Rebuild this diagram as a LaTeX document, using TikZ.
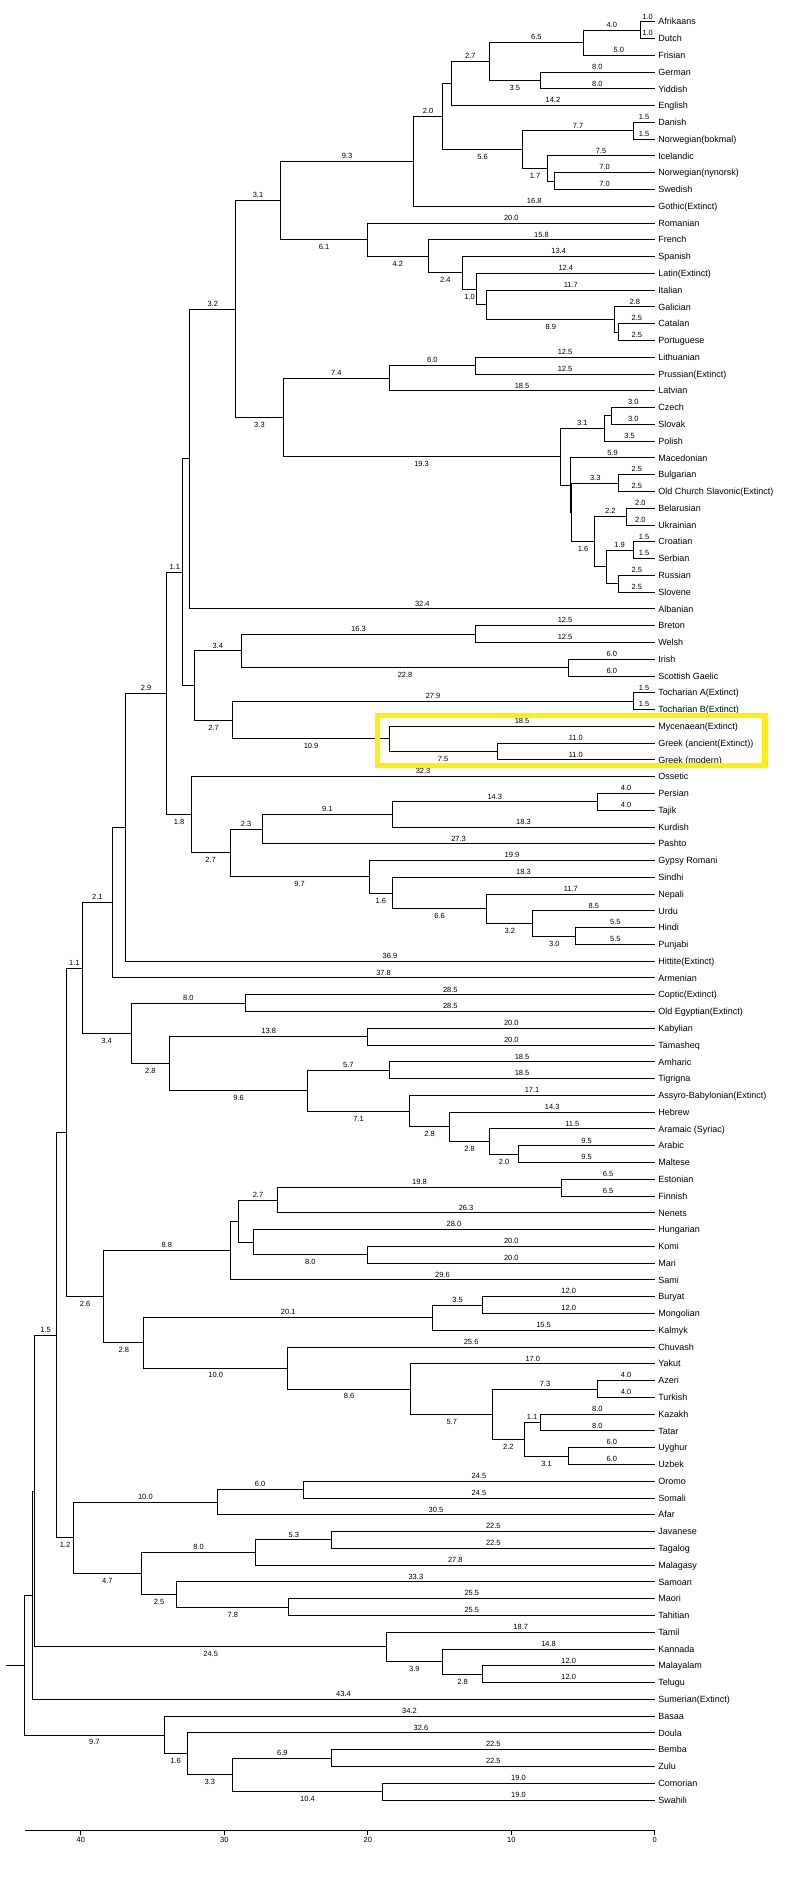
\documentclass[tikz,border=0pt]{standalone}
\usepackage{fontspec}
\setmainfont{Liberation Sans}
\usetikzlibrary{calc}
\definecolor{hl}{RGB}{255,240,0}
\tikzset{
  br/.style={line width=0.9pt, black},
  leaf/.style={font=\fontsize{9}{9}\selectfont, inner sep=0pt, anchor=base west, xshift=3.3pt, yshift=-3.2pt},
  lab/.style={font=\fontsize{7.5}{7.5}\selectfont, inner sep=0pt, anchor=base},
  hlbox/.style={draw=hl, line width=5.5pt}
}
\newcommand\leafL[3]{\coordinate (#1) at (654.8,{21.7+16.776*(#2-1)}); \node[leaf] (#1t) at (#1) {#3};}
\newcommand\joinJ[4]{\coordinate (jnx) at ({654.8-14.35*#2},0); \coordinate (jnm) at ($(#3)!0.5!(#4)$); \coordinate (#1) at (jnx |- jnm);}
\newcommand\brA[3]{\draw[br] (#1) |- (#2) node[lab,pos=0.75,yshift=2.7pt]{#3};}
\newcommand\brB[3]{\draw[br] (#1) |- (#2) node[lab,pos=0.75,yshift=-10pt]{#3};}
\newcommand\brN[2]{\draw[br] (#1) |- (#2);}
\begin{document}
\begin{tikzpicture}[x=1pt,y=-1pt]
\fill[white] (0,0) rectangle (807,1882);
\useasboundingbox (0,0) rectangle (807,1882);
% leaves
\leafL{afr}{1}{Afrikaans}
\leafL{dut}{2}{Dutch}
\leafL{fri}{3}{Frisian}
\leafL{ger}{4}{German}
\leafL{yid}{5}{Yiddish}
\leafL{eng}{6}{English}
\leafL{dan}{7}{Danish}
\leafL{nob}{8}{Norwegian(bokmal)}
\leafL{ice}{9}{Icelandic}
\leafL{nno}{10}{Norwegian(nynorsk)}
\leafL{swe}{11}{Swedish}
\leafL{got}{12}{Gothic(Extinct)}
\leafL{rom}{13}{Romanian}
\leafL{fre}{14}{French}
\leafL{spa}{15}{Spanish}
\leafL{lat}{16}{Latin(Extinct)}
\leafL{ita}{17}{Italian}
\leafL{gal}{18}{Galician}
\leafL{cat}{19}{Catalan}
\leafL{por}{20}{Portuguese}
\leafL{lit}{21}{Lithuanian}
\leafL{pru}{22}{Prussian(Extinct)}
\leafL{lav}{23}{Latvian}
\leafL{cze}{24}{Czech}
\leafL{slk}{25}{Slovak}
\leafL{pol}{26}{Polish}
\leafL{mac}{27}{Macedonian}
\leafL{bul}{28}{Bulgarian}
\leafL{ocs}{29}{Old Church Slavonic(Extinct)}
\leafL{bel}{30}{Belarusian}
\leafL{ukr}{31}{Ukrainian}
\leafL{cro}{32}{Croatian}
\leafL{ser}{33}{Serbian}
\leafL{rus}{34}{Russian}
\leafL{slv}{35}{Slovene}
\leafL{alb}{36}{Albanian}
\leafL{bre}{37}{Breton}
\leafL{wel}{38}{Welsh}
\leafL{iri}{39}{Irish}
\leafL{gae}{40}{Scottish Gaelic}
\leafL{tca}{41}{Tocharian A(Extinct)}
\leafL{tcb}{42}{Tocharian B(Extinct)}
\leafL{myc}{43}{Mycenaean(Extinct)}
\leafL{gra}{44}{Greek (ancient(Extinct))}
\leafL{grm}{45}{Greek (modern)}
\leafL{oss}{46}{Ossetic}
\leafL{per}{47}{Persian}
\leafL{taj}{48}{Tajik}
\leafL{kur}{49}{Kurdish}
\leafL{pas}{50}{Pashto}
\leafL{gyp}{51}{Gypsy Romani}
\leafL{sin}{52}{Sindhi}
\leafL{nep}{53}{Nepali}
\leafL{urd}{54}{Urdu}
\leafL{hin}{55}{Hindi}
\leafL{pun}{56}{Punjabi}
\leafL{hit}{57}{Hittite(Extinct)}
\leafL{arm}{58}{Armenian}
\leafL{cop}{59}{Coptic(Extinct)}
\leafL{oeg}{60}{Old Egyptian(Extinct)}
\leafL{kab}{61}{Kabylian}
\leafL{tam}{62}{Tamasheq}
\leafL{amh}{63}{Amharic}
\leafL{tig}{64}{Tigrigna}
\leafL{asb}{65}{Assyro-Babylonian(Extinct)}
\leafL{heb}{66}{Hebrew}
\leafL{ara}{67}{Aramaic (Syriac)}
\leafL{arb}{68}{Arabic}
\leafL{mlt}{69}{Maltese}
\leafL{est}{70}{Estonian}
\leafL{fin}{71}{Finnish}
\leafL{nen}{72}{Nenets}
\leafL{hun}{73}{Hungarian}
\leafL{kom}{74}{Komi}
\leafL{mar}{75}{Mari}
\leafL{sam}{76}{Sami}
\leafL{bur}{77}{Buryat}
\leafL{mon}{78}{Mongolian}
\leafL{kal}{79}{Kalmyk}
\leafL{chu}{80}{Chuvash}
\leafL{yak}{81}{Yakut}
\leafL{aze}{82}{Azeri}
\leafL{tur}{83}{Turkish}
\leafL{kaz}{84}{Kazakh}
\leafL{tat}{85}{Tatar}
\leafL{uyg}{86}{Uyghur}
\leafL{uzb}{87}{Uzbek}
\leafL{oro}{88}{Oromo}
\leafL{som}{89}{Somali}
\leafL{afa}{90}{Afar}
\leafL{jav}{91}{Javanese}
\leafL{tag}{92}{Tagalog}
\leafL{mlg}{93}{Malagasy}
\leafL{smo}{94}{Samoan}
\leafL{mao}{95}{Maori}
\leafL{tah}{96}{Tahitian}
\leafL{tml}{97}{Tamil}
\leafL{kan}{98}{Kannada}
\leafL{mal}{99}{Malayalam}
\leafL{tel}{100}{Telugu}
\leafL{sum}{101}{Sumerian(Extinct)}
\leafL{bas}{102}{Basaa}
\leafL{dou}{103}{Doula}
\leafL{bem}{104}{Bemba}
\leafL{zul}{105}{Zulu}
\leafL{com}{106}{Comorian}
\leafL{swa}{107}{Swahili}
% Germanic
\joinJ{Nad}{1.0}{afr}{dut} \brA{Nad}{afr}{1.0} \brA{Nad}{dut}{1.0}
\joinJ{Nadf}{5.0}{Nad}{fri} \brA{Nadf}{Nad}{4.0} \brA{Nadf}{fri}{5.0}
\joinJ{Ngy}{8.0}{ger}{yid} \brA{Ngy}{ger}{8.0} \brA{Ngy}{yid}{8.0}
\joinJ{Nwg}{11.5}{Nadf}{Ngy} \brA{Nwg}{Nadf}{6.5} \brB{Nwg}{Ngy}{3.5}
\joinJ{Nwge}{14.2}{Nwg}{eng} \brA{Nwge}{Nwg}{2.7} \brA{Nwge}{eng}{14.2}
\joinJ{Ndn}{1.5}{dan}{nob} \brA{Ndn}{dan}{1.5} \brA{Ndn}{nob}{1.5}
\joinJ{Nns}{7.0}{nno}{swe} \brA{Nns}{nno}{7.0} \brA{Nns}{swe}{7.0}
\joinJ{Nins}{7.5}{ice}{Nns} \brA{Nins}{ice}{7.5} \brN{Nins}{Nns}
\joinJ{Nnor}{9.2}{Ndn}{Nins} \brA{Nnor}{Ndn}{7.7} \brB{Nnor}{Nins}{1.7}
\joinJ{Ngn}{14.8}{Nwge}{Nnor} \brN{Ngn}{Nwge} \brB{Ngn}{Nnor}{5.6}
\joinJ{Ngem}{16.8}{Ngn}{got} \brA{Ngem}{Ngn}{2.0} \brA{Ngem}{got}{16.8}
% Romance
\joinJ{Ncp}{2.5}{cat}{por} \brA{Ncp}{cat}{2.5} \brA{Ncp}{por}{2.5}
\joinJ{Ngcp}{2.8}{gal}{Ncp} \brA{Ngcp}{gal}{2.8} \brN{Ngcp}{Ncp}
\joinJ{Nig}{11.7}{ita}{Ngcp} \brA{Nig}{ita}{11.7} \brB{Nig}{Ngcp}{8.9}
\joinJ{Nli}{12.4}{lat}{Nig} \brA{Nli}{lat}{12.4} \brN{Nli}{Nig}
\joinJ{Nsl}{13.4}{spa}{Nli} \brA{Nsl}{spa}{13.4} \brB{Nsl}{Nli}{1.0}
\joinJ{Nfr}{15.8}{fre}{Nsl} \brA{Nfr}{fre}{15.8} \brB{Nfr}{Nsl}{2.4}
\joinJ{Nro}{20.0}{rom}{Nfr} \brA{Nro}{rom}{20.0} \brB{Nro}{Nfr}{4.2}
\joinJ{Ngr}{26.1}{Ngem}{Nro} \brA{Ngr}{Ngem}{9.3} \brB{Ngr}{Nro}{6.1}
% Balto-Slavic
\joinJ{Nlp}{12.5}{lit}{pru} \brA{Nlp}{lit}{12.5} \brA{Nlp}{pru}{12.5}
\joinJ{Nbal}{18.5}{Nlp}{lav} \brA{Nbal}{Nlp}{6.0} \brA{Nbal}{lav}{18.5}
\joinJ{Ncs}{3.0}{cze}{slk} \brA{Ncs}{cze}{3.0} \brA{Ncs}{slk}{3.0}
\joinJ{Nws}{3.5}{Ncs}{pol} \brN{Nws}{Ncs} \brA{Nws}{pol}{3.5}
\joinJ{Nbo}{2.5}{bul}{ocs} \brA{Nbo}{bul}{2.5} \brA{Nbo}{ocs}{2.5}
\joinJ{Nbu}{2.0}{bel}{ukr} \brA{Nbu}{bel}{2.0} \brA{Nbu}{ukr}{2.0}
\joinJ{Nhs}{1.5}{cro}{ser} \brA{Nhs}{cro}{1.5} \brA{Nhs}{ser}{1.5}
\joinJ{Nrs}{2.5}{rus}{slv} \brA{Nrs}{rus}{2.5} \brA{Nrs}{slv}{2.5}
\joinJ{Nhr}{3.4}{Nhs}{Nrs} \brA{Nhr}{Nhs}{1.9} \brN{Nhr}{Nrs}
\joinJ{Nes}{4.2}{Nbu}{Nhr} \brA{Nes}{Nbu}{2.2} \brN{Nes}{Nhr}
\joinJ{Nbe}{5.8}{Nbo}{Nes} \brA{Nbe}{Nbo}{3.3} \brB{Nbe}{Nes}{1.6}
\joinJ{Nmb}{5.9}{mac}{Nbe} \brA{Nmb}{mac}{5.9} \brN{Nmb}{Nbe}
\joinJ{Nsla}{6.6}{Nws}{Nmb} \brA{Nsla}{Nws}{3.1} \brN{Nsla}{Nmb}
\joinJ{Nbs}{25.9}{Nbal}{Nsla} \brA{Nbs}{Nbal}{7.4} \brB{Nbs}{Nsla}{19.3}
\joinJ{Nce}{29.2}{Ngr}{Nbs} \brA{Nce}{Ngr}{3.1} \brB{Nce}{Nbs}{3.3}
\joinJ{Nca}{32.4}{Nce}{alb} \brA{Nca}{Nce}{3.2} \brA{Nca}{alb}{32.4}
% Celtic, Tocharian, Greek
\joinJ{Nbw}{12.5}{bre}{wel} \brA{Nbw}{bre}{12.5} \brA{Nbw}{wel}{12.5}
\joinJ{Nigc}{6.0}{iri}{gae} \brA{Nigc}{iri}{6.0} \brA{Nigc}{gae}{6.0}
\joinJ{Ncel}{28.8}{Nbw}{Nigc} \brA{Ncel}{Nbw}{16.3} \brB{Ncel}{Nigc}{22.8}
\joinJ{Ntoc}{1.5}{tca}{tcb} \brA{Ntoc}{tca}{1.5} \brA{Ntoc}{tcb}{1.5}
\joinJ{Ngg}{11.0}{gra}{grm} \brA{Ngg}{gra}{11.0} \brA{Ngg}{grm}{11.0}
\joinJ{Ngre}{18.5}{myc}{Ngg} \brA{Ngre}{myc}{18.5} \brB{Ngre}{Ngg}{7.5}
\joinJ{Ntg}{29.4}{Ntoc}{Ngre} \brA{Ntg}{Ntoc}{27.9} \brB{Ntg}{Ngre}{10.9}
\joinJ{Nctg}{32.1}{Ncel}{Ntg} \brA{Nctg}{Ncel}{3.4} \brB{Nctg}{Ntg}{2.7}
\joinJ{Na10}{32.9}{Nca}{Nctg} \brN{Na10}{Nca} \brN{Na10}{Nctg}
% Indo-Iranian
\joinJ{Npt}{4.0}{per}{taj} \brA{Npt}{per}{4.0} \brA{Npt}{taj}{4.0}
\joinJ{Nir1}{18.3}{Npt}{kur} \brA{Nir1}{Npt}{14.3} \brA{Nir1}{kur}{18.3}
\joinJ{Nir}{27.35}{Nir1}{pas} \brA{Nir}{Nir1}{9.1} \brA{Nir}{pas}{27.3}
\joinJ{Nhp}{5.5}{hin}{pun} \brA{Nhp}{hin}{5.5} \brA{Nhp}{pun}{5.5}
\joinJ{Nuhp}{8.5}{urd}{Nhp} \brA{Nuhp}{urd}{8.5} \brB{Nuhp}{Nhp}{3.0}
\joinJ{Nnep}{11.7}{nep}{Nuhp} \brA{Nnep}{nep}{11.7} \brB{Nnep}{Nuhp}{3.2}
\joinJ{Nsin}{18.3}{sin}{Nnep} \brA{Nsin}{sin}{18.3} \brB{Nsin}{Nnep}{6.6}
\joinJ{Nind}{19.9}{gyp}{Nsin} \brA{Nind}{gyp}{19.9} \brB{Nind}{Nsin}{1.6}
\joinJ{Nii}{29.6}{Nir}{Nind} \brA{Nii}{Nir}{2.3} \brB{Nii}{Nind}{9.7}
\joinJ{Nc1}{32.3}{oss}{Nii} \brA{Nc1}{oss}{32.3} \brB{Nc1}{Nii}{2.7}
\joinJ{Na11}{34.0}{Na10}{Nc1} \brA{Na11}{Na10}{1.1} \brB{Na11}{Nc1}{1.8}
\joinJ{Nd1}{36.9}{Na11}{hit} \brA{Nd1}{Na11}{2.9} \brA{Nd1}{hit}{36.9}
\joinJ{Nd2}{37.8}{Nd1}{arm} \brN{Nd2}{Nd1} \brA{Nd2}{arm}{37.8}
% Afro-Asiatic
\joinJ{Neg}{28.5}{cop}{oeg} \brA{Neg}{cop}{28.5} \brA{Neg}{oeg}{28.5}
\joinJ{Nber}{20.0}{kab}{tam} \brA{Nber}{kab}{20.0} \brA{Nber}{tam}{20.0}
\joinJ{Net}{18.5}{amh}{tig} \brA{Net}{amh}{18.5} \brA{Net}{tig}{18.5}
\joinJ{Nam}{9.5}{arb}{mlt} \brA{Nam}{arb}{9.5} \brA{Nam}{mlt}{9.5}
\joinJ{Nar}{11.5}{ara}{Nam} \brA{Nar}{ara}{11.5} \brB{Nar}{Nam}{2.0}
\joinJ{Nhe}{14.3}{heb}{Nar} \brA{Nhe}{heb}{14.3} \brB{Nhe}{Nar}{2.8}
\joinJ{Nas}{17.1}{asb}{Nhe} \brA{Nas}{asb}{17.1} \brB{Nas}{Nhe}{2.8}
\joinJ{Nsem}{24.2}{Net}{Nas} \brA{Nsem}{Net}{5.7} \brB{Nsem}{Nas}{7.1}
\joinJ{Nbs2}{33.8}{Nber}{Nsem} \brA{Nbs2}{Nber}{13.8} \brB{Nbs2}{Nsem}{9.6}
\joinJ{Naa}{36.5}{Neg}{Nbs2} \brA{Naa}{Neg}{8.0} \brB{Naa}{Nbs2}{2.8}
\joinJ{Nd3}{39.9}{Nd2}{Naa} \brA{Nd3}{Nd2}{2.1} \brB{Nd3}{Naa}{3.4}
% Uralic
\joinJ{Nef}{6.5}{est}{fin} \brA{Nef}{est}{6.5} \brA{Nef}{fin}{6.5}
\joinJ{Nu1}{26.3}{Nef}{nen} \brA{Nu1}{Nef}{19.8} \brA{Nu1}{nen}{26.3}
\joinJ{Nkm}{20.0}{kom}{mar} \brA{Nkm}{kom}{20.0} \brA{Nkm}{mar}{20.0}
\joinJ{Nu3}{28.0}{hun}{Nkm} \brA{Nu3}{hun}{28.0} \brB{Nu3}{Nkm}{8.0}
\joinJ{Nu2}{29.0}{Nu1}{Nu3} \brA{Nu2}{Nu1}{2.7} \brN{Nu2}{Nu3}
\joinJ{Nura}{29.6}{Nu2}{sam} \brN{Nura}{Nu2} \brA{Nura}{sam}{29.6}
% Altaic
\joinJ{Nbm}{12.0}{bur}{mon} \brA{Nbm}{bur}{12.0} \brA{Nbm}{mon}{12.0}
\joinJ{Nmo}{15.5}{Nbm}{kal} \brA{Nmo}{Nbm}{3.5} \brA{Nmo}{kal}{15.5}
\joinJ{Nat}{4.0}{aze}{tur} \brA{Nat}{aze}{4.0} \brA{Nat}{tur}{4.0}
\joinJ{Nkt}{8.0}{kaz}{tat} \brA{Nkt}{kaz}{8.0} \brA{Nkt}{tat}{8.0}
\joinJ{Nuu}{6.0}{uyg}{uzb} \brA{Nuu}{uyg}{6.0} \brA{Nuu}{uzb}{6.0}
\joinJ{Nkq}{9.1}{Nkt}{Nuu} \brA{Nkq}{Nkt}{1.1} \brB{Nkq}{Nuu}{3.1}
\joinJ{Ntc}{11.3}{Nat}{Nkq} \brA{Ntc}{Nat}{7.3} \brB{Ntc}{Nkq}{2.2}
\joinJ{Nty}{17.0}{yak}{Ntc} \brA{Nty}{yak}{17.0} \brB{Nty}{Ntc}{5.7}
\joinJ{Ntu}{25.6}{chu}{Nty} \brA{Ntu}{chu}{25.6} \brB{Ntu}{Nty}{8.6}
\joinJ{Nalt}{35.6}{Nmo}{Ntu} \brA{Nalt}{Nmo}{20.1} \brB{Nalt}{Ntu}{10.0}
\joinJ{Ne2}{38.4}{Nura}{Nalt} \brA{Ne2}{Nura}{8.8} \brB{Ne2}{Nalt}{2.8}
\joinJ{Ne1}{41.0}{Nd3}{Ne2} \brA{Ne1}{Nd3}{1.1} \brB{Ne1}{Ne2}{2.6}
% Cushitic, Austronesian
\joinJ{Nos}{24.5}{oro}{som} \brA{Nos}{oro}{24.5} \brA{Nos}{som}{24.5}
\joinJ{Ncu}{30.5}{Nos}{afa} \brA{Ncu}{Nos}{6.0} \brA{Ncu}{afa}{30.5}
\joinJ{Njt}{22.5}{jav}{tag} \brA{Njt}{jav}{22.5} \brA{Njt}{tag}{22.5}
\joinJ{Njtm}{27.8}{Njt}{mlg} \brA{Njtm}{Njt}{5.3} \brA{Njtm}{mlg}{27.8}
\joinJ{Nmt}{25.5}{mao}{tah} \brA{Nmt}{mao}{25.5} \brA{Nmt}{tah}{25.5}
\joinJ{Nsmt}{33.3}{smo}{Nmt} \brA{Nsmt}{smo}{33.3} \brB{Nsmt}{Nmt}{7.8}
\joinJ{Nan}{35.8}{Njtm}{Nsmt} \brA{Nan}{Njtm}{8.0} \brB{Nan}{Nsmt}{2.5}
\joinJ{Ng1}{40.5}{Ncu}{Nan} \brA{Ng1}{Ncu}{10.0} \brB{Ng1}{Nan}{4.7}
\joinJ{Nf1}{41.7}{Ne1}{Ng1} \brN{Nf1}{Ne1} \brB{Nf1}{Ng1}{1.2}
% Dravidian
\joinJ{Nmtl}{12.0}{mal}{tel} \brA{Nmtl}{mal}{12.0} \brA{Nmtl}{tel}{12.0}
\joinJ{Nkmt}{14.8}{kan}{Nmtl} \brA{Nkmt}{kan}{14.8} \brB{Nkmt}{Nmtl}{2.8}
\joinJ{Ndra}{18.7}{tml}{Nkmt} \brA{Ndra}{tml}{18.7} \brB{Ndra}{Nkmt}{3.9}
\joinJ{Nh1}{43.2}{Nf1}{Ndra} \brA{Nh1}{Nf1}{1.5} \brB{Nh1}{Ndra}{24.5}
\joinJ{Ni1}{43.4}{Nh1}{sum} \brN{Ni1}{Nh1} \brA{Ni1}{sum}{43.4}
% Bantu
\joinJ{Nbz}{22.5}{bem}{zul} \brA{Nbz}{bem}{22.5} \brA{Nbz}{zul}{22.5}
\joinJ{Ncs2}{19.0}{com}{swa} \brA{Ncs2}{com}{19.0} \brA{Ncs2}{swa}{19.0}
\joinJ{Nbcs}{29.4}{Nbz}{Ncs2} \brA{Nbcs}{Nbz}{6.9} \brB{Nbcs}{Ncs2}{10.4}
\joinJ{Ndb}{32.6}{dou}{Nbcs} \brA{Ndb}{dou}{32.6} \brB{Ndb}{Nbcs}{3.3}
\joinJ{Nban}{34.2}{bas}{Ndb} \brA{Nban}{bas}{34.2} \brB{Nban}{Ndb}{1.6}
% root
\joinJ{Nroot}{43.9}{Ni1}{Nban} \brN{Nroot}{Ni1} \brB{Nroot}{Nban}{9.7}
\coordinate (rstub) at (6.2,0);
\draw[br] (Nroot) -- (rstub |- Nroot);
% axis
\coordinate (axL) at (24.8,1830);
\coordinate (axR) at (654.8,1830);
\draw[br] (axL) -- (axR);
\foreach \v in {0,10,20,30,40} {
  \draw[br] ({654.8-14.35*\v},1830) -- ++(0,4.5);
  \node[lab] (tk\v) at ({654.8-14.35*\v},1842) {\v};
}
% highlight box
\coordinate (hb1) at (377.3,715.5);
\coordinate (hb2) at (765.2,765.5);
\draw[hlbox] (hb1) rectangle (hb2);
\end{tikzpicture}
\end{document}
